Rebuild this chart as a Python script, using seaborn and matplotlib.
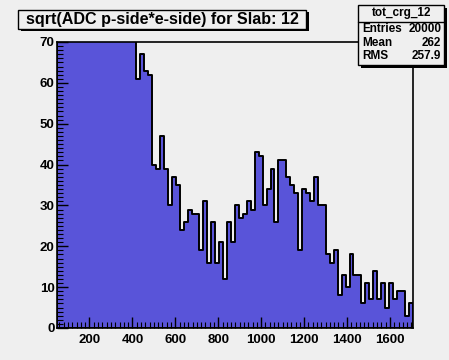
import numpy as np
import pandas as pd
import matplotlib
matplotlib.use("Agg")
import matplotlib.pyplot as plt
from matplotlib.patches import Rectangle
from matplotlib.ticker import MultipleLocator
import seaborn as sns

# ---- data ----
title = "sqrt(ADC p-side*e-side) for Slab: 12"
hist_name = "tot_crg_12"
stats_labels = ["Entries", "Mean", "RMS"]
stats_values = ["20000", "262", "257.9"]

bin_low = 50.0
bin_width = 18.4
# bin contents (first bins are far above the 70 y-limit and are clipped)
counts = [
    420, 980, 1650, 1900, 1800, 1600, 1450, 1300, 1150, 1000,
    880, 760, 640, 540, 450, 370, 290, 220, 150, 95,
    61, 67, 63, 62, 40, 39, 47, 39, 30, 37,
    35, 24, 26, 29, 28, 28, 19, 31, 16, 26,
    16, 21, 12, 26, 21, 30, 27, 28, 31, 29,
    43, 42, 30, 34, 39, 26, 41, 41, 37, 35,
    33, 19, 34, 33, 31, 37, 30, 30, 18, 16,
    19, 8, 13, 10, 18, 13, 13, 6, 11, 7,
    14, 7, 11, 5, 11, 7, 9, 9, 3, 6,
]
x_ticks = [200, 400, 600, 800, 1000, 1200, 1400, 1600]
y_ticks = [0, 10, 20, 30, 40, 50, 60, 70]

edges = [float(bin_low + bin_width * k) for k in range(len(counts) + 1)]
centers = [0.5 * (edges[k] + edges[k + 1]) for k in range(len(counts))]
df = pd.DataFrame({"adc": centers, "entries": counts})

# ---- style ----
sns.set_theme(style="ticks")
plt.rcParams["font.family"] = ["Liberation Sans", "DejaVu Sans"]
plt.rcParams["font.weight"] = "bold"

W, H = 449, 360
BG = "#efefef"
FILL = "#5954d9"

fig = plt.figure(figsize=(W / 100, H / 100), dpi=100, facecolor=BG)
L, R, T, B = 57.3, 412.7, 42.0, 328.0
ax = fig.add_axes([L / W, 1 - B / H, (R - L) / W, (B - T) / H])
ax.set_facecolor(BG)

sns.histplot(data=df, x="adc", weights="entries", bins=edges, element="step",
             fill=True, color=FILL, alpha=1.0, edgecolor="black",
             linewidth=1.4, ax=ax)
ax.set_axisbelow(False)

ax.set_xlim(bin_low, 1706)
ax.set_ylim(0, 70)
ax.set_xlabel("")
ax.set_ylabel("")
ax.set_xticks(x_ticks)
ax.set_yticks(y_ticks)
ax.xaxis.set_minor_locator(MultipleLocator(20))
ax.yaxis.set_minor_locator(MultipleLocator(1))
ax.tick_params(which="major", direction="in", length=8, width=1.0,
               colors="black", labelsize=9.5, top=False, right=False)
ax.tick_params(which="minor", direction="in", length=4, width=0.8,
               colors="black", top=False, right=False)
ax.tick_params(axis="y", pad=2)
ax.tick_params(axis="x", pad=4)
for lab in ax.get_xticklabels() + ax.get_yticklabels():
    lab.set_fontweight("bold")
for s in ax.spines.values():
    s.set_visible(True)
    s.set_color("black")
    s.set_linewidth(1.2)
    s.set_zorder(4)


def prect(x0, y0, x1, y1, **kw):
    return Rectangle((x0 / W, 1 - y1 / H), (x1 - x0) / W, (y1 - y0) / H,
                     transform=fig.transFigure, **kw)


# title box with shadow
tx0, ty0, tx1, ty1 = 18.3, 10.0, 306.0, 28.5
fig.add_artist(prect(tx0 + 2.5, ty0 + 2.5, tx1 + 2.5, ty1 + 2.5, fc="black", ec="none", zorder=5))
fig.add_artist(prect(tx0, ty0, tx1, ty1, fc=BG, ec="black", lw=1.0, zorder=6))
fig.text((tx0 + tx1) / 2 / W, 1 - (ty0 + ty1) / 2 / H, title, ha="center", va="center",
         fontsize=11.6, fontweight="bold", color="black", zorder=7)

# stats box with shadow
sx0, sy0, sx1, sy1 = 358.3, 5.0, 444.0, 65.0
fig.add_artist(prect(sx0 + 2.5, sy0 + 2.5, sx1 + 2.5, sy1 + 2.5, fc="black", ec="none", zorder=5))
fig.add_artist(prect(sx0, sy0, sx1, sy1, fc=BG, ec="black", lw=1.0, zorder=6))
fig.add_artist(plt.Line2D([sx0 / W, sx1 / W], [1 - 21.7 / H, 1 - 21.7 / H],
                          transform=fig.transFigure, color="black", lw=1.0, zorder=7))
fig.text((sx0 + sx1) / 2 / W, 1 - 13.3 / H, hist_name, ha="center", va="center",
         fontsize=8.5, fontweight="bold", color="black", zorder=7)
row_y = [29.0, 42.5, 56.0]
for lab, val, yy in zip(stats_labels, stats_values, row_y):
    fig.text(362.5 / W, 1 - yy / H, lab, ha="left", va="center",
             fontsize=8.5, fontweight="bold", color="black", zorder=7)
    fig.text(441.5 / W, 1 - yy / H, val, ha="right", va="center",
             fontsize=8.5, fontweight="bold", color="black", zorder=7)

fig.savefig("out.png", dpi=100, facecolor=BG)
